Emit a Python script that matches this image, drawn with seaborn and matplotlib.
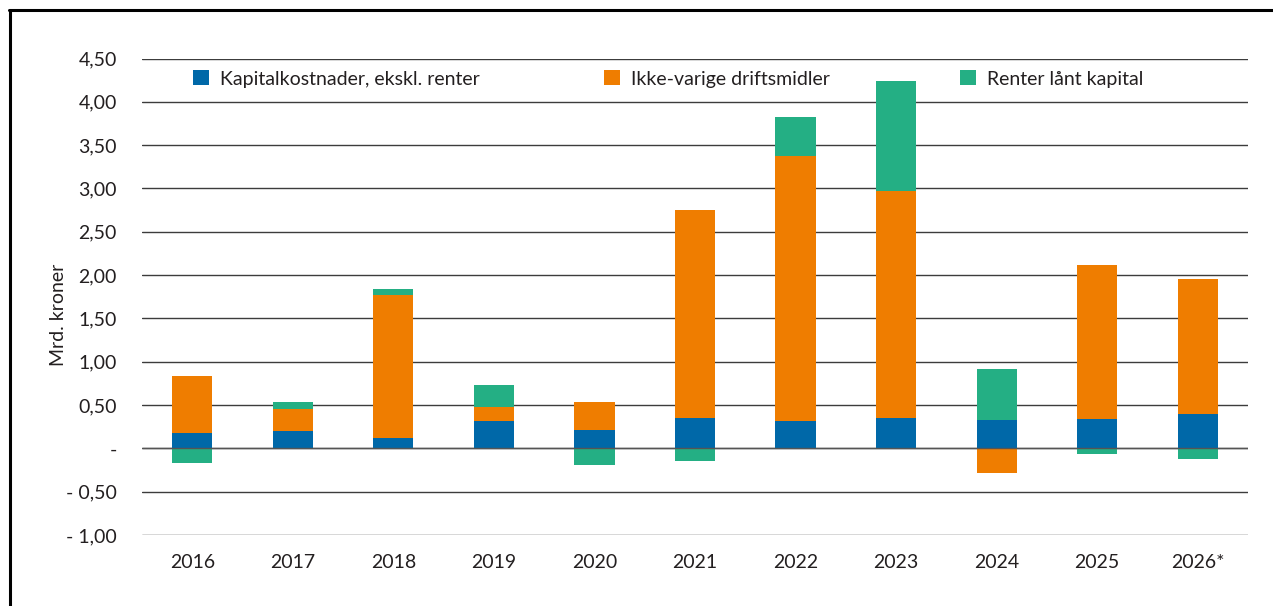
import numpy as np
import pandas as pd
import matplotlib
matplotlib.use("Agg")
import matplotlib.pyplot as plt
import seaborn as sns
from matplotlib.patches import Patch
from matplotlib.lines import Line2D

years = ["2016", "2017", "2018", "2019", "2020", "2021", "2022", "2023", "2024", "2025", "2026*"]
kapital = [0.18, 0.20, 0.12, 0.32, 0.21, 0.35, 0.32, 0.35, 0.33, 0.34, 0.40]
driftsmidler = [0.66, 0.25, 1.65, 0.16, 0.32, 2.40, 3.06, 2.62, -0.28, 1.78, 1.56]
renter = [-0.17, 0.08, 0.07, 0.25, -0.19, -0.15, 0.45, 1.27, 0.59, -0.07, -0.12]

series = ["Kapitalkostnader, ekskl. renter", "Ikke-varige driftsmidler", "Renter lånt kapital"]
colors = ["#0068a8", "#ef7d00", "#24af84"]

yticks = [-1.0, -0.5, 0, 0.5, 1.0, 1.5, 2.0, 2.5, 3.0, 3.5, 4.0, 4.5]
ytick_labels = ["- 1,00", "- 0,50", "-", "0,50", "1,00", "1,50", "2,00",
                "2,50", "3,00", "3,50", "4,00", "4,50"]

FS = 14

sns.set_style("white")
plt.rcParams["font.family"] = ["Lato", "DejaVu Sans"]
plt.rcParams["text.color"] = "#231f20"

fig = plt.figure(figsize=(12.73, 6.06), dpi=100)
ax = fig.add_axes([142 / 1273, 1 - 535 / 606, (1248 - 142) / 1273, (535 - 58.5) / 606])

# stack positives upward, negatives downward
pos_base = np.zeros(len(years))
neg_base = np.zeros(len(years))
for vals, col in zip([kapital, driftsmidler, renter], colors):
    vals = np.array(vals)
    bottom = np.where(vals >= 0, pos_base, neg_base)
    sns.barplot(x=years, y=vals, bottom=bottom, color=col, saturation=1,
                width=0.4, errorbar=None, linewidth=0, ax=ax, zorder=2)
    pos_base += np.clip(vals, 0, None)
    neg_base += np.clip(vals, None, 0)

ax.set_xlim(-0.5, len(years) - 0.5)
ax.set_ylim(-1.0, 4.5)
ax.set_yticks(yticks)
ax.set_yticklabels(ytick_labels)
ax.grid(axis="y", color="#3c3c3c", linewidth=1.0, zorder=0)
ax.set_axisbelow(True)
ax.axhline(0, color="#555555", linewidth=1.0, zorder=3)
for s in ax.spines.values():
    s.set_visible(False)
ax.tick_params(axis="y", length=0, pad=18, labelsize=FS, labelcolor="#231f20")
ax.tick_params(axis="x", length=0, pad=14, labelsize=FS, labelcolor="#231f20")
ax.set_xlabel("")
ax.set_ylabel("")
fig.text(58 / 1273, 1 - 315 / 606, "Mrd. kroner", rotation=90, ha="center", va="center",
         fontsize=FS, color="#231f20")

# legend entries placed one by one
leg_x = [(193 - 142) / 1106, (604 - 142) / 1106, (960 - 142) / 1106]
for name, col, lx in zip(series, colors, leg_x):
    leg = ax.legend(handles=[Patch(facecolor=col, edgecolor="none", label=name)],
                    loc="center left", bbox_to_anchor=(lx, (535 - 79) / 476.5),
                    frameon=False, fontsize=FS, borderpad=0, borderaxespad=0,
                    handlelength=0.82, handleheight=0.8, handletextpad=0.55)
    ax.add_artist(leg)
ax.legend_ = None  # avoid drawing the last one twice

# frame around the figure (left and top edges visible)
fig.add_artist(Line2D([9.5 / 1273, 9.5 / 1273], [0, 1 - 10 / 606], color="black", linewidth=2.2))
fig.add_artist(Line2D([8.5 / 1273, 1], [1 - 10 / 606, 1 - 10 / 606], color="black", linewidth=2.2))

fig.savefig("out.png", dpi=100)
